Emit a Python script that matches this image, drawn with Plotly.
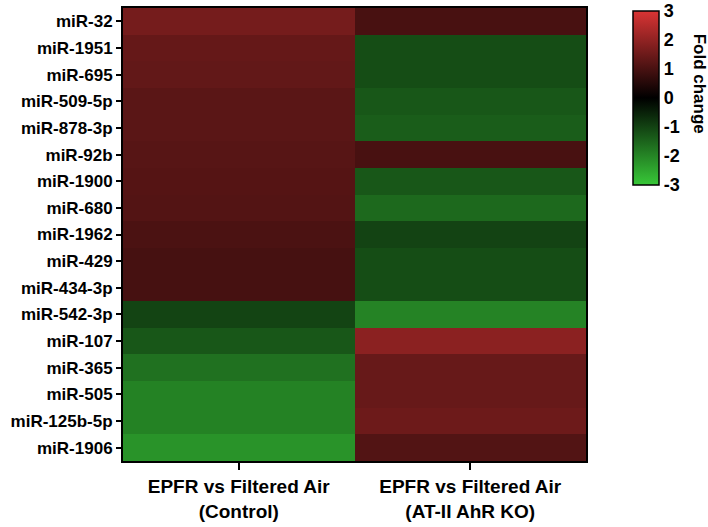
import plotly.graph_objects as go

# miRNAs, top to bottom
mirnas = ["miR-32", "miR-1951", "miR-695", "miR-509-5p", "miR-878-3p", "miR-92b",
          "miR-1900", "miR-680", "miR-1962", "miR-429", "miR-434-3p", "miR-542-3p",
          "miR-107", "miR-365", "miR-505", "miR-125b-5p", "miR-1906"]
groups = ["EPFR vs Filtered Air<br>(Control)", "EPFR vs Filtered Air<br>(AT-II AhR KO)"]

# fold change values
control = [1.62, 1.40, 1.36, 1.25, 1.25, 1.20, 1.18, 1.15, 1.03, 0.97, 0.97,
           -1.02, -1.30, -1.70, -1.95, -1.95, -2.20]
ahr_ko = [1.00, -1.15, -1.15, -1.30, -1.40, 1.00, -1.30, -1.58, -1.00, -1.15, -1.15,
          -1.96, 1.92, 1.43, 1.43, 1.50, 1.14]

cbar_ticks = [3, 2, 1, 0, -1, -2, -3]
cbar_text = ["3", "2", "1", "0", "-1", "-2", "-3"]

z = [[c, k] for c, k in zip(control, ahr_ko)]

font = "Liberation Sans, Arial, sans-serif"

fig = go.Figure(go.Heatmap(
    z=z, x=groups, y=mirnas,
    zmin=-3, zmax=3,
    colorscale=[[0, "#38c838"], [0.5, "#000000"], [1, "#d93434"]],
    colorbar=dict(
        x=1.1015, xanchor="left", xref="paper",
        y=0.994, yanchor="top", len=0.385, lenmode="fraction",
        thickness=26, outlinecolor="black", outlinewidth=1.5,
        tickvals=cbar_ticks, ticktext=cbar_text, ticks="",
        tickfont=dict(family=font, size=18, color="black", weight="bold"),
        ticklabeloverflow="allow",
        xpad=0, ypad=0,
    ),
))

fig.add_annotation(
    text="<b>Fold change</b>", textangle=90, showarrow=False,
    xref="paper", yref="paper", x=1.245, y=0.832, xanchor="center", yanchor="middle",
    font=dict(family=font, size=17, color="black"),
)

fig.update_xaxes(
    showline=True, linecolor="black", linewidth=2, mirror=True,
    ticks="outside", ticklen=7, tickwidth=2, tickcolor="black",
    tickfont=dict(family=font, size=19, color="black", weight="bold"),
    automargin=False,
)
fig.update_yaxes(
    autorange="reversed",
    showline=True, linecolor="black", linewidth=2, mirror=True,
    ticks="outside", ticklen=5, tickwidth=2, tickcolor="black",
    tickfont=dict(family=font, size=17, color="black", weight="bold"),
    automargin=False,
)

fig.update_layout(
    width=708, height=527,
    margin=dict(l=123, r=122, t=8, b=66, autoexpand=False),
    plot_bgcolor="white", paper_bgcolor="white",
    font=dict(family=font, color="black", weight="bold"),
)

# drop the default 8px page margin so the figure fills the window
fig.write_html("out.html", config={"displayModeBar": False},
               post_script="document.body.style.margin='0';")
